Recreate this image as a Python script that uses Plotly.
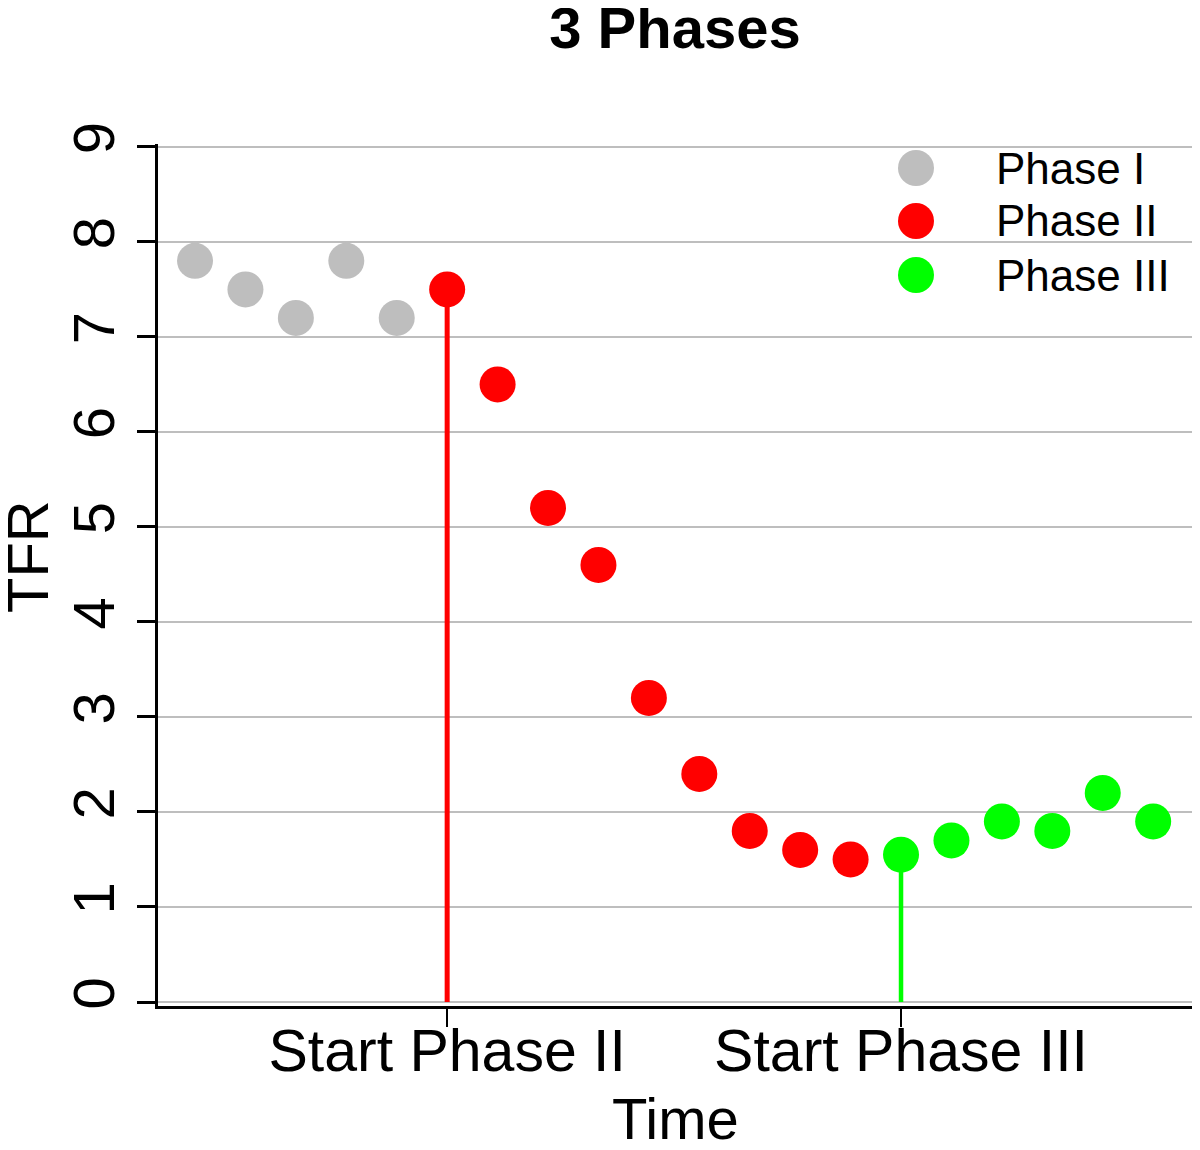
import plotly.graph_objects as go

# ---- data ----
phase1_x = [1, 2, 3, 4, 5]
phase1_y = [7.8, 7.5, 7.2, 7.8, 7.2]
phase2_x = [6, 7, 8, 9, 10, 11, 12, 13, 14]
phase2_y = [7.5, 6.5, 5.2, 4.6, 3.2, 2.4, 1.8, 1.6, 1.5]
phase3_x = [15, 16, 17, 18, 19, 20]
phase3_y = [1.55, 1.7, 1.9, 1.8, 2.2, 1.9]
series_names = ["Phase I", "Phase II", "Phase III"]
series_colors = ["#BEBEBE", "#FF0000", "#00FF00"]
xtick_vals = [6, 15]
xtick_text = ["Start Phase II", "Start Phase III"]
ytick_vals = [0, 1, 2, 3, 4, 5, 6, 7, 8, 9]

FONT = "Liberation Sans, Arial, Helvetica, sans-serif"
OFF = 8  # page body margin offset
W, H = 1200 - OFF, 1150 - OFF
L, R, T, B = 158 - OFF, 8, 136, 144
pw, ph = W - L - R, H - T - B


def px_x(sx):
    return (sx - OFF - L) / pw


def px_y(sy):
    return (H - B - (sy - OFF)) / ph


fig = go.Figure()

# vertical start lines (from zero up to the first point of each phase)
fig.add_trace(go.Scatter(x=[phase2_x[0], phase2_x[0]], y=[0, phase2_y[0]], mode="lines",
                         line=dict(color=series_colors[1], width=5), showlegend=False,
                         hoverinfo="skip", cliponaxis=False))
fig.add_trace(go.Scatter(x=[phase3_x[0], phase3_x[0]], y=[0, phase3_y[0]], mode="lines",
                         line=dict(color=series_colors[2], width=4.5), showlegend=False,
                         hoverinfo="skip", cliponaxis=False))

for xs, ys, name, col in [(phase1_x, phase1_y, series_names[0], series_colors[0]),
                          (phase2_x, phase2_y, series_names[1], series_colors[1]),
                          (phase3_x, phase3_y, series_names[2], series_colors[2])]:
    fig.add_trace(go.Scatter(x=xs, y=ys, mode="markers", name=name,
                             marker=dict(size=36, color=col, line=dict(width=0)),
                             showlegend=False, cliponaxis=False))

# custom legend (large symbols like the original)
shapes = []
annotations = []
leg_y_px = [168, 221, 275]
for name, col, ypx in zip(series_names, series_colors, leg_y_px):
    yp = px_y(ypx)
    shapes.append(dict(type="circle", xref="paper", yref="paper",
                       xsizemode="pixel", ysizemode="pixel",
                       xanchor=px_x(916), yanchor=yp,
                       x0=-18, x1=18, y0=-18, y1=18,
                       fillcolor=col, line=dict(width=0)))
    annotations.append(dict(x=px_x(994), y=yp, xref="paper", yref="paper",
                            text=name, showarrow=False, xanchor="left", yanchor="middle",
                            font=dict(family=FONT, size=44, color="black")))

# y axis title
annotations.append(dict(x=px_x(27), y=px_y(557), xref="paper", yref="paper",
                        text="TFR", textangle=-90, showarrow=False,
                        xanchor="center", yanchor="middle",
                        font=dict(family=FONT, size=58, color="black")))
# x axis title
annotations.append(dict(x=px_x(675), y=px_y(1118), xref="paper", yref="paper",
                        text="Time", showarrow=False, xanchor="center", yanchor="middle",
                        font=dict(family=FONT, size=58, color="black")))

fig.update_layout(
    width=W, height=H,
    margin=dict(l=L, r=R, t=T, b=B, pad=0),
    paper_bgcolor="white", plot_bgcolor="white",
    showlegend=False,
    title=dict(text="<b>3 Phases</b>", x=(675 - OFF) / W, xanchor="center",
               y=1 - (28 - OFF) / H, yanchor="middle", yref="container",
               font=dict(family=FONT, size=58, color="black")),
    xaxis=dict(range=[0.266, 20.77], tickmode="array", tickvals=xtick_vals, ticktext=xtick_text,
               ticks="outside", ticklen=18, tickwidth=2, tickcolor="black",
               ticklabelstandoff=-27,
               showgrid=False, zeroline=False, showline=True, linecolor="black", linewidth=3,
               tickfont=dict(family=FONT, size=59, color="black")),
    yaxis=dict(range=[-0.042, 9.03], tickmode="array", tickvals=ytick_vals,
               ticks="outside", ticklen=18, tickwidth=2.5, tickcolor="black",
               tickangle=-90,
               showgrid=True, gridcolor="#BEBEBE", gridwidth=2,
               zeroline=False, showline=True, linecolor="black", linewidth=3,
               tickfont=dict(family=FONT, size=58, color="black")),
    shapes=shapes, annotations=annotations,
)

fig.write_html("out.html")
